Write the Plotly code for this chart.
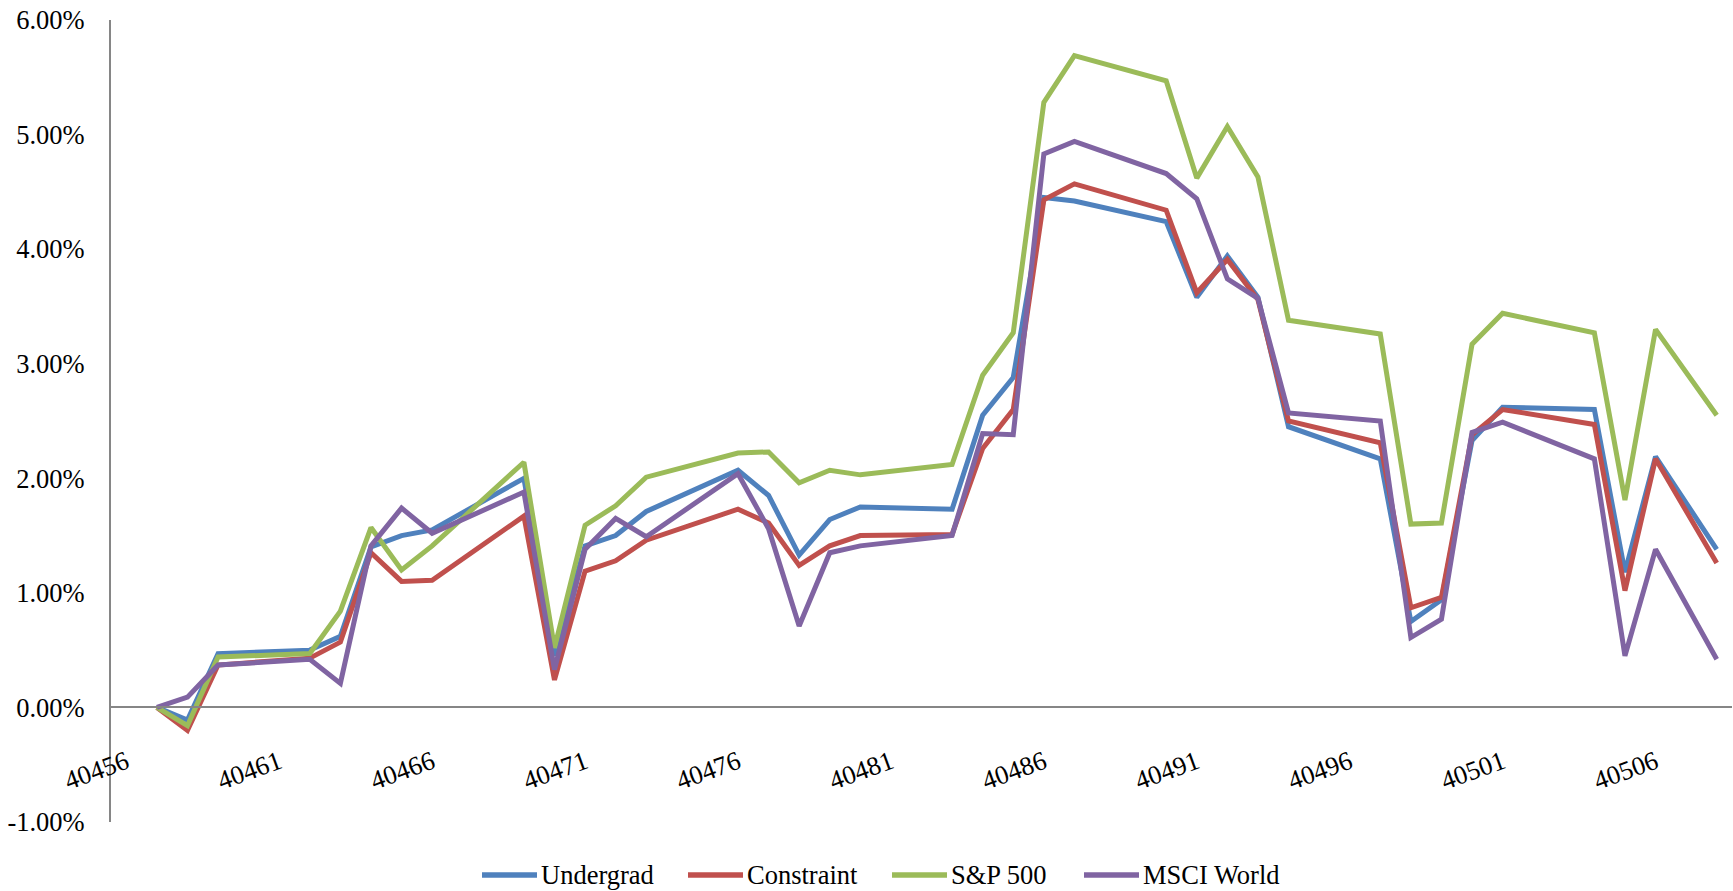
import plotly.graph_objects as go

# Trading days as Excel serial dates
dates = [40457, 40458, 40459,
         40462, 40463, 40464, 40465, 40466,
         40469, 40470, 40471, 40472, 40473,
         40476, 40477, 40478, 40479, 40480,
         40483, 40484, 40485, 40486, 40487,
         40490, 40491, 40492, 40493, 40494,
         40497, 40498, 40499, 40500, 40501,
         40504, 40505, 40506, 40508]

# Cumulative returns, in percent
undergrad = [0.00, -0.11, 0.47,
             0.50, 0.62, 1.40, 1.50, 1.55,
             2.00, 0.45, 1.41, 1.50, 1.71,
             2.07, 1.85, 1.33, 1.64, 1.75,
             1.73, 2.55, 2.88, 4.45, 4.42,
             4.24, 3.58, 3.94, 3.58, 2.45,
             2.17, 0.75, 0.94, 2.33, 2.62,
             2.60, 1.18, 2.19, 1.38]

constraint = [0.00, -0.20, 0.37,
              0.43, 0.57, 1.35, 1.10, 1.11,
              1.67, 0.24, 1.19, 1.28, 1.46,
              1.73, 1.61, 1.24, 1.41, 1.50,
              1.51, 2.26, 2.60, 4.43, 4.57,
              4.34, 3.62, 3.91, 3.56, 2.50,
              2.31, 0.87, 0.96, 2.38, 2.60,
              2.47, 1.02, 2.17, 1.26]

sp500 = [0.00, -0.16, 0.44,
         0.47, 0.84, 1.57, 1.20, 1.41,
         2.14, 0.52, 1.59, 1.76, 2.01,
         2.22, 2.23, 1.96, 2.07, 2.03,
         2.12, 2.90, 3.27, 5.28, 5.69,
         5.47, 4.62, 5.07, 4.63, 3.38,
         3.26, 1.60, 1.61, 3.17, 3.44,
         3.27, 1.81, 3.30, 2.55]

msci_world = [0.00, 0.09, 0.37,
              0.42, 0.21, 1.41, 1.74, 1.52,
              1.88, 0.33, 1.38, 1.65, 1.49,
              2.04, 1.56, 0.71, 1.35, 1.41,
              1.50, 2.39, 2.38, 4.83, 4.94,
              4.66, 4.44, 3.74, 3.57, 2.57,
              2.50, 0.61, 0.77, 2.40, 2.49,
              2.17, 0.45, 1.38, 0.42]

x_ticks = [40456, 40461, 40466, 40471, 40476, 40481, 40486, 40491, 40496, 40501, 40506]
y_ticks = [-1, 0, 1, 2, 3, 4, 5, 6]

series = [
    ("Undergrad", undergrad, "#4F81BD"),
    ("Constraint", constraint, "#C0504D"),
    ("S&P 500", sp500, "#9BBB59"),
    ("MSCI World", msci_world, "#8064A2"),
]

W, H = 1733, 891
M_L, M_R, M_T, M_B = 111, 1, 20, 69
PLOT_W = W - M_L - M_R
PLOT_H = H - M_T - M_B

font_family = "Liberation Serif, Times New Roman, serif"
FONT_SIZE = 26.5

fig = go.Figure()
for name, vals, color in series:
    fig.add_trace(go.Scatter(
        x=dates, y=vals, name=name, mode="lines",
        line=dict(color=color, width=5),
        showlegend=False,
    ))

# Legend row under the plot: long key lines followed by the series name
legend_key_px = [482, 688, 892, 1084]   # left end of each key, in pixels
KEY_LEN = 55
LEGEND_Y_PX = 875


def px_to_paper_x(px):
    return (px - M_L) / PLOT_W


def px_to_paper_y(py):
    return (H - M_B - py) / PLOT_H


shapes = []
annotations = []
ly = px_to_paper_y(LEGEND_Y_PX)
for (name, _, color), kx in zip(series, legend_key_px):
    shapes.append(dict(
        type="line", xref="paper", yref="paper",
        x0=px_to_paper_x(kx), x1=px_to_paper_x(kx + KEY_LEN), y0=ly, y1=ly,
        line=dict(color=color, width=5.5),
    ))
    annotations.append(dict(
        xref="paper", yref="paper", x=px_to_paper_x(kx + KEY_LEN + 2), y=ly,
        xanchor="left", yanchor="middle", showarrow=False, text=name,
        font=dict(family=font_family, size=FONT_SIZE, color="black"),
    ))

fig.update_layout(
    width=W, height=H,
    margin=dict(l=M_L, r=M_R, t=M_T, b=M_B),
    paper_bgcolor="white", plot_bgcolor="white",
    font=dict(family=font_family, size=FONT_SIZE, color="black"),
    showlegend=False,
    shapes=shapes,
    annotations=annotations,
    xaxis=dict(
        range=[40455.5, 40508.5],
        tickmode="array", tickvals=x_ticks, ticktext=[str(t) for t in x_ticks],
        tickangle=-20,
        showgrid=False, zeroline=False,
        showline=True, linecolor="#868686", linewidth=2,
        anchor="free", position=1 / 7,
        ticks="", ticklabelstandoff=28,
        tickfont=dict(family=font_family, size=FONT_SIZE, color="black"),
    ),
    yaxis=dict(
        range=[-1, 6],
        tickmode="array", tickvals=y_ticks,
        ticktext=[f"{v:.2f}%" for v in y_ticks],
        showgrid=False, zeroline=False,
        showline=True, linecolor="#868686", linewidth=2,
        ticks="", ticklabelstandoff=19,
        tickfont=dict(family=font_family, size=FONT_SIZE, color="black"),
    ),
)

fig.write_html("out.html")
